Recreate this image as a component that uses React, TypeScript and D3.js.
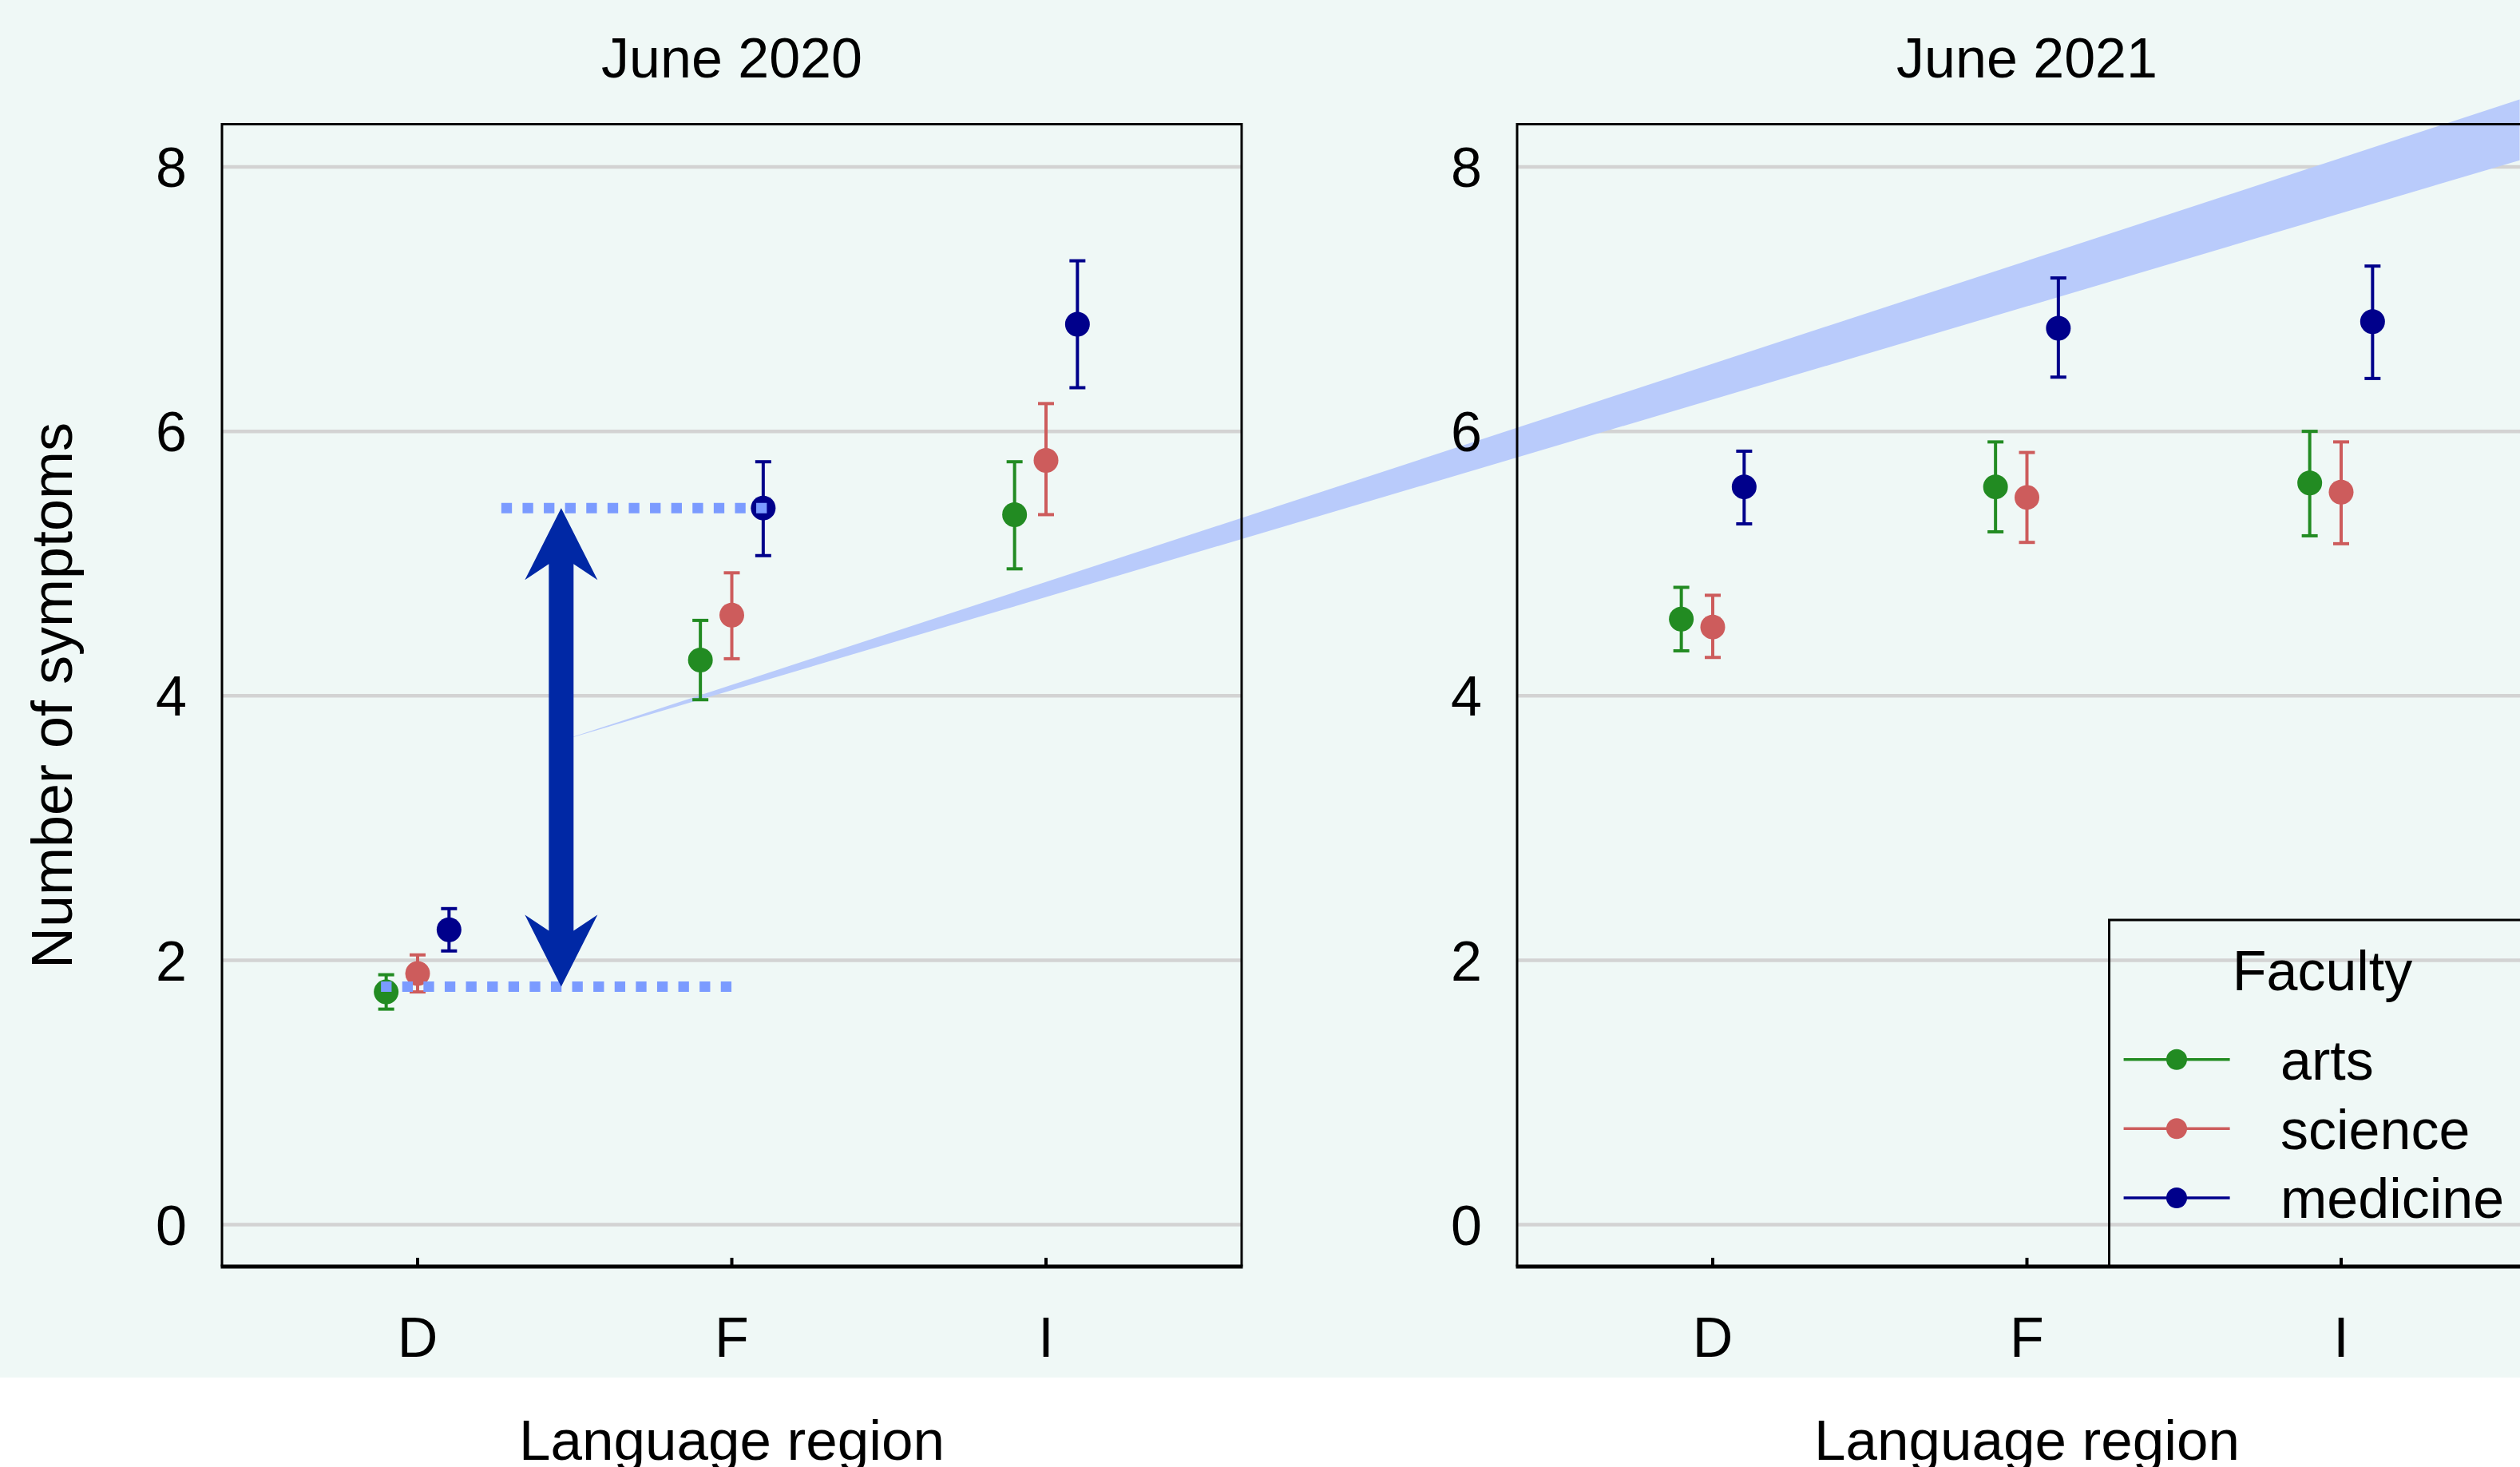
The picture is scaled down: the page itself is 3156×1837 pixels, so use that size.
import React from "react";
import * as d3 from "d3";

const categories = ["D", "F", "I"];
const faculties = ["arts", "science", "medicine"];
const facultyColors = ["#228B22", "#CD5C5C", "#00008B"];
const waves = ["June 2020", "June 2021"];
const yTicks = [0, 2, 4, 6, 8];

// rows = faculty (arts, science, medicine), columns = region (D, F, I)
const mean2020 = [
  [1.76, 4.27, 5.37],
  [1.9, 4.61, 5.78],
  [2.23, 5.42, 6.81],
];
const lower2020 = [
  [1.63, 3.97, 4.96],
  [1.76, 4.28, 5.37],
  [2.07, 5.06, 6.33],
];
const upper2020 = [
  [1.89, 4.57, 5.77],
  [2.04, 4.93, 6.21],
  [2.39, 5.77, 7.29],
];

const mean2021 = [
  [4.58, 5.58, 5.61],
  [4.52, 5.5, 5.54],
  [5.58, 6.78, 6.83],
];
const lower2021 = [
  [4.34, 5.24, 5.21],
  [4.29, 5.16, 5.15],
  [5.3, 6.41, 6.4],
];
const upper2021 = [
  [4.82, 5.92, 6.0],
  [4.76, 5.84, 5.92],
  [5.85, 7.16, 7.25],
];

// annotation on the first panel (x in category steps from "D", y in symptoms)
const arrowAt = 0.457;
const arrowSpan = [1.8, 5.42];
const dottedLines = [
  { from: -0.1, to: 1.0, value: 1.8 },
  { from: 0.283, to: 1.1, value: 5.42 },
];
const wedgeX = [0.457, 6.69, 6.69];
const wedgeY = [3.66, 8.51, 8.05];

export default function App() {
  const W = 3156;
  const H = 1837;
  const top = 155.5;
  const bottom = 1586;
  const panelW = 1277;
  const lefts = [278, 1900];
  const font = "'Liberation Sans', Arial, sans-serif";

  const y = d3.scaleLinear().domain([0, 8]).range([1533.5, 209]);
  const xs = lefts.map((l) =>
    d3.scalePoint<string>().domain(categories).range([l, l + panelW]).padding(0.6226)
  );
  const step = xs[0].step();
  const dodge = d3
    .scalePoint<string>()
    .domain(faculties)
    .range([-0.1 * step, 0.1 * step]);

  // continuous category position for the annotation
  const xa = d3
    .scaleLinear()
    .domain([0, 1])
    .range([xs[0]("D")!, xs[0]("D")! + step]);

  const data = [
    { mean: mean2020, lo: lower2020, hi: upper2020 },
    { mean: mean2021, lo: lower2021, hi: upper2021 },
  ];

  const wedge = d3.line<number>()
    .x((d) => xa(wedgeX[d]))
    .y((d) => y(wedgeY[d]))([0, 1, 2]) + "Z";

  // double-headed arrow
  const ax = xa(arrowAt);
  const yT = y(arrowSpan[1]);
  const yB = y(arrowSpan[0]);
  const hl = 90, inset = 70, hw = 45.5, sw = 15.5;
  const arrowPath = [
    [ax, yT],
    [ax + hw, yT + hl],
    [ax + sw, yT + inset],
    [ax + sw, yB - inset],
    [ax + hw, yB - hl],
    [ax, yB],
    [ax - hw, yB - hl],
    [ax - sw, yB - inset],
    [ax - sw, yT + inset],
    [ax - hw, yT + hl],
  ];
  const arrowD = d3.line()(arrowPath as [number, number][]) + "Z";

  const legendX = 2641.5;
  const legendTop = 1152;
  const legendRows = [1326.7, 1413.3, 1500];

  return (
    <svg
      width={W}
      height={H}
      style={{ position: "absolute", left: 0, top: 0, display: "block" }}
      fontFamily={font}
    >
      <rect x={0} y={0} width={W} height={H} fill="#ffffff" />
      <rect x={0} y={0} width={W} height={1725} fill="#eff8f6" />

      {/* gridlines */}
      {lefts.map((l, p) =>
        yTicks.map((t) => (
          <line
            key={`g${p}-${t}`}
            x1={l}
            x2={l + panelW}
            y1={y(t)}
            y2={y(t)}
            stroke="#d3d3d3"
            strokeWidth={4.5}
          />
        ))
      )}

      {/* light blue wedge */}
      <path d={wedge} fill="#b9cbfb" />

      {/* panel frames */}
      {lefts.map((l, p) => (
        <g key={`f${p}`}>
          <path
            d={`M${l},${bottom}V${top}H${l + panelW}V${bottom}`}
            fill="none"
            stroke="#000"
            strokeWidth={3}
          />
          <line x1={l - 1.5} x2={l + panelW + 1.5} y1={bottom} y2={bottom} stroke="#000" strokeWidth={5} />
          {categories.map((c) => (
            <g key={c}>
              <line
                x1={xs[p](c)}
                x2={xs[p](c)}
                y1={bottom}
                y2={bottom - 11}
                stroke="#000"
                strokeWidth={4}
              />
              <text x={xs[p](c)} y={1699} fontSize={70} textAnchor="middle">
                {c}
              </text>
            </g>
          ))}
          {yTicks.map((t) => (
            <text
              key={t}
              x={l - 44}
              y={y(t)}
              dy="0.36em"
              fontSize={70}
              textAnchor="end"
            >
              {t}
            </text>
          ))}
          <text x={l + panelW / 2} y={97} fontSize={70} textAnchor="middle">
            {waves[p]}
          </text>
          <text x={l + panelW / 2} y={1828} fontSize={71} textAnchor="middle">
            Language region
          </text>
        </g>
      ))}

      <text
        x={90}
        y={871}
        fontSize={72}
        textAnchor="middle"
        transform="rotate(-90, 90, 871)"
      >
        Number of symptoms
      </text>

      {/* points with error bars */}
      {data.map((d, p) =>
        faculties.map((f, i) =>
          categories.map((c, j) => {
            const cx = xs[p](c)! + dodge(f)!;
            return (
              <g key={`${p}-${f}-${c}`} stroke={facultyColors[i]} strokeWidth={4}>
                <line x1={cx} x2={cx} y1={y(d.lo[i][j])} y2={y(d.hi[i][j])} />
                <line x1={cx - 10} x2={cx + 10} y1={y(d.lo[i][j])} y2={y(d.lo[i][j])} />
                <line x1={cx - 10} x2={cx + 10} y1={y(d.hi[i][j])} y2={y(d.hi[i][j])} />
                <circle cx={cx} cy={y(d.mean[i][j])} r={15.5} fill={facultyColors[i]} stroke="none" />
              </g>
            );
          })
        )
      )}

      {/* dotted reference lines */}
      {dottedLines.map((dl, k) => (
        <line
          key={`dl${k}`}
          x1={xa(dl.from) - 6.5}
          x2={xa(dl.to) + 6.5}
          y1={y(dl.value)}
          y2={y(dl.value)}
          stroke="#7b9bff"
          strokeWidth={13}
          strokeDasharray="13.3 13.3"
        />
      ))}

      <path d={arrowD} fill="#0028a5" />

      {/* legend */}
      <path
        d={`M${legendX},${bottom}V${legendTop}H${W + 10}`}
        fill="none"
        stroke="#000"
        strokeWidth={3}
      />
      <text x={2908.5} y={1240} fontSize={70} textAnchor="middle">
        Faculty
      </text>
      {faculties.map((f, i) => (
        <g key={`lg${f}`}>
          <line
            x1={2659.6}
            x2={2792.6}
            y1={legendRows[i]}
            y2={legendRows[i]}
            stroke={facultyColors[i]}
            strokeWidth={3.5}
          />
          <circle cx={2726} cy={legendRows[i]} r={13} fill={facultyColors[i]} />
          <text x={2856} y={legendRows[i]} dy="0.36em" fontSize={70}>
            {f}
          </text>
        </g>
      ))}
    </svg>
  );
}
